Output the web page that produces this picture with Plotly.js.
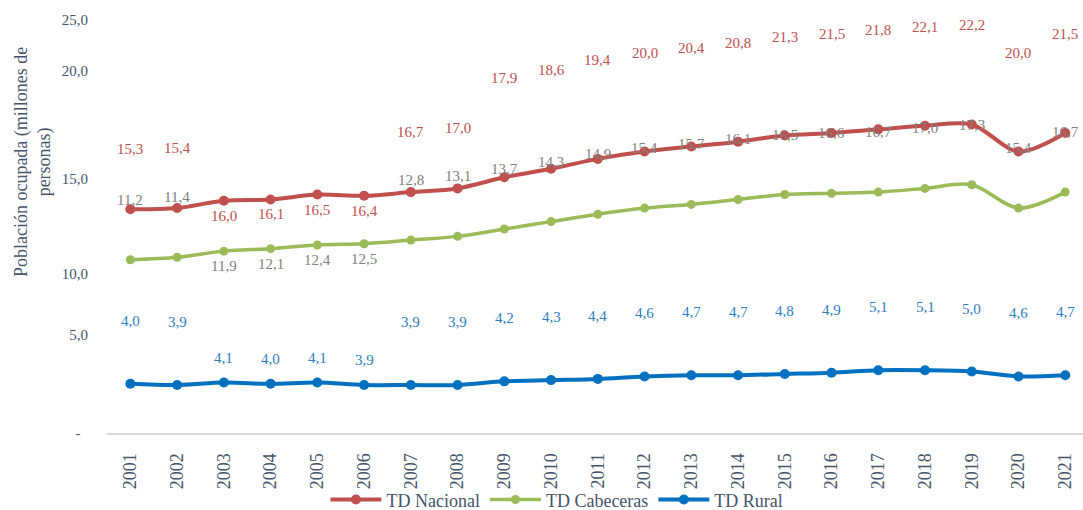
<!DOCTYPE html>
<html>
<head>
<meta charset="utf-8">
<script src="https://cdn.plot.ly/plotly-3.0.1.min.js"></script>
<style>
html,body{margin:0;padding:0;background:#fff;}
#chart{width:1083px;height:510px;}
</style>
</head>
<body>
<div id="chart"></div>
<script>
// ---- data ----
const years = ['2001','2002','2003','2004','2005','2006','2007','2008','2009','2010','2011','2012','2013','2014','2015','2016','2017','2018','2019','2020','2021'];
const nacional   = [15.3,15.4,16.0,16.1,16.5,16.4,16.7,17.0,17.9,18.6,19.4,20.0,20.4,20.8,21.3,21.5,21.8,22.1,22.2,20.0,21.5];
const cabeceras  = [11.2,11.4,11.9,12.1,12.4,12.5,12.8,13.1,13.7,14.3,14.9,15.4,15.7,16.1,16.5,16.6,16.7,17.0,17.3,15.4,16.7];
const rural      = [4.0,3.9,4.1,4.0,4.1,3.9,3.9,3.9,4.2,4.3,4.4,4.6,4.7,4.7,4.8,4.9,5.1,5.1,5.0,4.6,4.7];
const seriesNames = ['TD Nacional','TD Cabeceras','TD Rural'];
const yTickLabels = ['-\u00a0\u00a0','5,0','10,0','15,0','20,0','25,0'];
const yTitle = 'Población ocupada (millones de<br>personas)';

// ---- style ----
const FONT = 'Liberation Serif';
const TXT = '#44546A';
const C_NAC = '#C0504D', C_CAB = '#9BBB59', C_RUR = '#0070C0';
const L_NAC = '#C0504D', L_CAB = '#808080', L_RUR = '#2E7CC4';

const fmt = v => v.toFixed(1).replace('.', ',');
const lowYears = ['2003','2004','2005','2006'];

function mk(name, vals, color, yaxis, w, ms){
  return {
    type:'scatter', mode:'lines+markers', name:name, x:years, y:vals, yaxis:yaxis,
    line:{color:color, width:w, shape:'spline', smoothing:0.9},
    marker:{color:color, size:ms}, hoverinfo:'skip'
  };
}
const traces = [
  mk(seriesNames[0], nacional, C_NAC, 'y2', 4, 10),
  mk(seriesNames[1], cabeceras, C_CAB, 'y2', 3.5, 9),
  mk(seriesNames[2], rural, C_RUR, 'y', 4, 10)
];

const annotations = [];
function addLabels(vals, color, yref, shiftFn){
  vals.forEach((v,i)=>{
    annotations.push({x:i, y:v, xref:'x', yref:yref, text:fmt(v), showarrow:false,
      yshift:shiftFn(years[i]), yanchor:'middle', xanchor:'center',
      font:{family:FONT, size:15, color:color}});
  });
}
addLabels(nacional, L_NAC, 'y2', yr => lowYears.includes(yr) ? -15 : (+yr >= 2009 ? 99 : 60));
addLabels(cabeceras, L_CAB, 'y2', yr => lowYears.includes(yr) ? -15 : 60);
addLabels(rural, L_RUR, 'y', yr => lowYears.includes(yr) ? 25 : 63);

annotations.push({xref:'paper', yref:'paper', x:-0.076, y:0.64, text:yTitle, textangle:-90,
  showarrow:false, xanchor:'center', yanchor:'middle', align:'center',
  font:{family:FONT, size:18, color:TXT}});

const layout = {
  width:1083, height:510,
  margin:{l:107, r:0, t:10, b:77},
  paper_bgcolor:'#fff', plot_bgcolor:'#fff',
  showlegend:true,
  legend:{orientation:'h', x:0.461, xanchor:'center', yref:'container', y:0.02, yanchor:'middle',
    itemwidth:51, bgcolor:'rgba(0,0,0,0)', font:{family:FONT, size:18, color:TXT}},
  xaxis:{type:'category', range:[-0.5, 20.38], showgrid:false, zeroline:false,
    showline:true, linecolor:'#D9D9D9', linewidth:2,
    ticks:'outside', ticklen:11, tickcolor:'rgba(0,0,0,0)', tickangle:-90,
    tickfont:{family:FONT, size:18, color:TXT}},
  yaxis:{range:[0, 34.39], showgrid:false, zeroline:false, showline:false,
    tickmode:'array', tickvals:[0, 7.97, 12.98, 20.71, 29.46, 33.63], ticktext:yTickLabels,
    ticks:'outside', ticklen:15, tickcolor:'rgba(0,0,0,0)',
    tickfont:{family:FONT, size:15, color:TXT}},
  yaxis2:{overlaying:'y', range:[-2.886, 31.504], visible:false, showgrid:false, zeroline:false},
  annotations:annotations
};

Plotly.newPlot('chart', traces, layout, {staticPlot:true, displayModeBar:false});
</script>
</body>
</html>
